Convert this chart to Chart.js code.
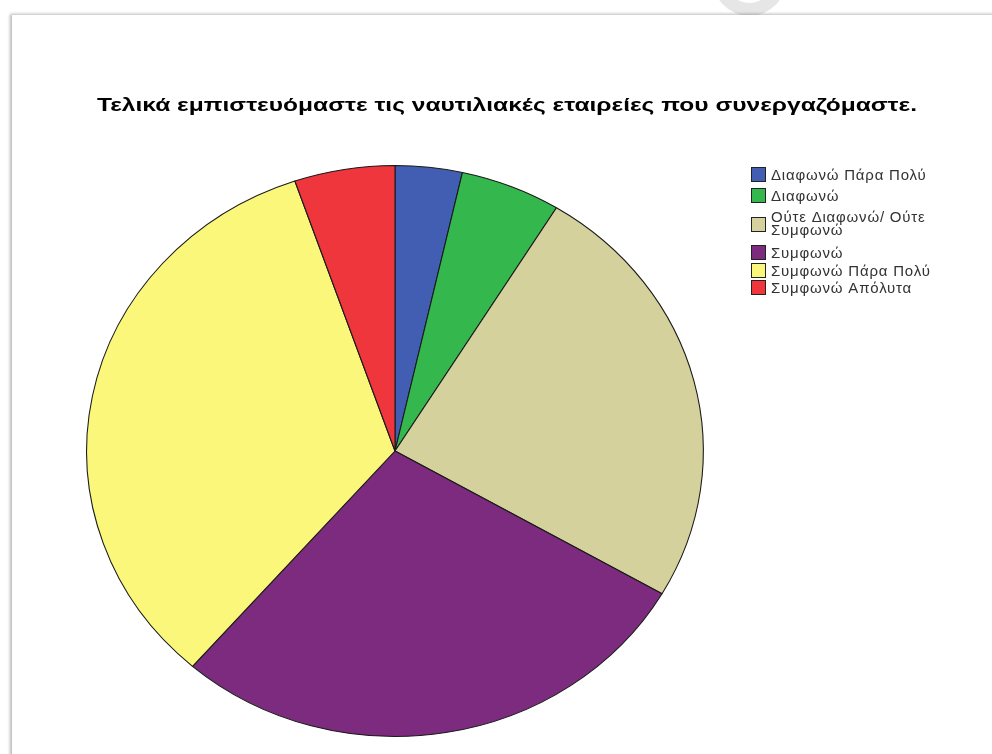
<!DOCTYPE html>
<html>
<head>
<meta charset="utf-8">
<script src="https://cdn.jsdelivr.net/npm/chart.js@4.4.1/dist/chart.umd.min.js"></script>
<style>
  html, body { margin:0; padding:0; background:#fff; width:992px; height:754px; overflow:hidden; }
  #ring { position:absolute; left:712px; top:-62px; width:49px; height:52px; border:13px solid #e6e6e6; border-radius:50%; }
  #page { position:absolute; left:12px; top:15px; width:990px; height:760px; background:#fff;
          box-shadow: -2px -1px 3px rgba(0,0,0,0.28); }
  #c { position:absolute; left:0; top:0; }
</style>
</head>
<body>
<div id="ring"></div>
<div id="page"></div>
<canvas id="c" width="992" height="754"></canvas>
<script>
const titleText = "Τελικά εμπιστευόμαστε τις ναυτιλιακές εταιρείες που συνεργαζόμαστε.";
const categories = ["Διαφωνώ Πάρα Πολύ", "Διαφωνώ", "Ούτε Διαφωνώ/ Ούτε Συμφωνώ", "Συμφωνώ", "Συμφωνώ Πάρα Πολύ", "Συμφωνώ Απόλυτα"];
const counts = [2, 3, 14, 16, 19, 3];
const colors = ["#415EB2", "#34B74C", "#D4D19D", "#7C2B7E", "#FBF77B", "#EF363D"];

const STRETCH_X = 1.08;
// legend row layout (box top y for each row)
const LEGEND_BOX_TOPS = [167, 188, 217, 245, 263, 280];

const stretchPlugin = {
  id: 'stretch',
  beforeDatasetsDraw(chart) {
    const a = chart.chartArea;
    const cx = (a.left + a.right) / 2, cy = (a.top + a.bottom) / 2;
    const ctx = chart.ctx;
    ctx.save();
    ctx.translate(cx, cy);
    ctx.scale(STRETCH_X, 1);
    ctx.translate(-cx, -cy);
  },
  afterDatasetsDraw(chart) { chart.ctx.restore(); }
};

const titlePlugin = {
  id: 'customTitle',
  afterDraw(chart) {
    const ctx = chart.ctx;
    ctx.save();
    ctx.font = "bold 19px 'Liberation Sans', Arial, sans-serif";
    ctx.fillStyle = "#000";
    ctx.textBaseline = "alphabetic";
    const w = ctx.measureText(titleText).width;
    const target = 820;
    ctx.translate(97, 111);
    ctx.scale(target / w, 1);
    ctx.fillText(titleText, 0, 0);
    ctx.restore();
  }
};

const legendPlugin = {
  id: 'customLegend',
  afterDraw(chart) {
    const ctx = chart.ctx;
    ctx.save();
    ctx.font = "15px 'Liberation Sans', Arial, sans-serif";
    try { ctx.letterSpacing = "0.8px"; } catch (e) {}
    ctx.textBaseline = "alphabetic";
    const x0 = 751, textX = 771;
    categories.forEach((lab, i) => {
      const words = lab.split(' ');
      const lines = [];
      let cur = '';
      words.forEach(wd => {
        const test = cur ? cur + ' ' + wd : wd;
        if (ctx.measureText(test).width > 175 && cur) { lines.push(cur); cur = wd; }
        else cur = test;
      });
      lines.push(cur);
      const boxY = LEGEND_BOX_TOPS[i];
      ctx.fillStyle = colors[i];
      ctx.fillRect(x0, boxY, 15, 15);
      ctx.strokeStyle = "#222";
      ctx.lineWidth = 1;
      ctx.strokeRect(x0 + 0.5, boxY + 0.5, 14, 14);
      ctx.fillStyle = "#333";
      if (lines.length === 1) {
        ctx.fillText(lines[0], textX, boxY + 13);
      } else {
        lines.forEach((ln, k) => ctx.fillText(ln, textX, boxY + 5 + k * 13));
      }
    });
    ctx.restore();
  }
};

new Chart(document.getElementById('c'), {
  type: 'pie',
  data: {
    labels: categories,
    datasets: [{
      data: counts,
      backgroundColor: colors,
      borderColor: "#1a1a1a",
      borderWidth: 1,
      hoverOffset: 0
    }]
  },
  options: {
    responsive: false,
    animation: false,
    events: [],
    layout: { padding: { left: 109, right: 311, top: 165, bottom: 17 } },
    plugins: {
      legend: { display: false },
      title: { display: false },
      tooltip: { enabled: false }
    }
  },
  plugins: [stretchPlugin, titlePlugin, legendPlugin]
});
</script>
</body>
</html>
